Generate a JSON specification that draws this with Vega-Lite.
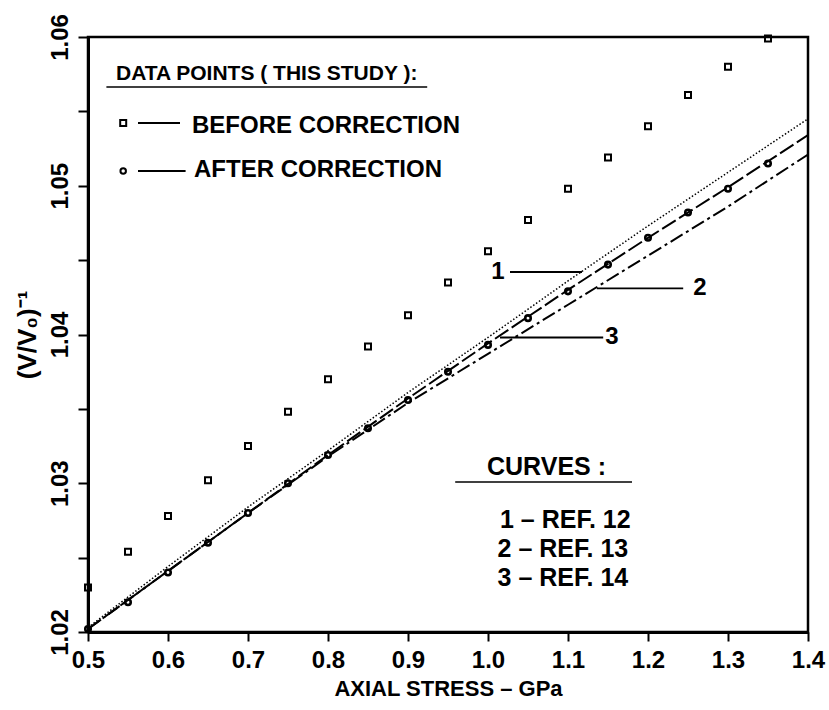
{
  "$schema": "https://vega.github.io/schema/vega-lite/v6.json",
  "width": 720,
  "height": 595,
  "autosize": {"type": "none"},
  "padding": {"left": 88, "top": 37, "right": 21, "bottom": 78},
  "background": "white",
  "config": {
    "view": {"stroke": "black", "strokeWidth": 2.5},
    "font": "Liberation Sans",
    "axis": {
      "domainColor": "black", "domainWidth": 3, "tickColor": "black", "tickWidth": 2,
      "labelColor": "black", "titleColor": "black", "grid": false,
      "labelFont": "Liberation Sans", "labelFontWeight": "bold", "labelFontSize": 24,
      "titleFont": "Liberation Sans", "titleFontWeight": "bold", "titleFontSize": 22
    }
  },
  "datasets": {
    "pts": [
      {"x": 0.5, "y": 1.0230, "series": "before"},
      {"x": 0.55, "y": 1.0254, "series": "before"},
      {"x": 0.6, "y": 1.0278, "series": "before"},
      {"x": 0.65, "y": 1.0302, "series": "before"},
      {"x": 0.7, "y": 1.0325, "series": "before"},
      {"x": 0.75, "y": 1.0348, "series": "before"},
      {"x": 0.8, "y": 1.0370, "series": "before"},
      {"x": 0.85, "y": 1.0392, "series": "before"},
      {"x": 0.9, "y": 1.0413, "series": "before"},
      {"x": 0.95, "y": 1.0435, "series": "before"},
      {"x": 1.0, "y": 1.0456, "series": "before"},
      {"x": 1.05, "y": 1.0477, "series": "before"},
      {"x": 1.1, "y": 1.0498, "series": "before"},
      {"x": 1.15, "y": 1.0519, "series": "before"},
      {"x": 1.2, "y": 1.0540, "series": "before"},
      {"x": 1.25, "y": 1.0561, "series": "before"},
      {"x": 1.3, "y": 1.0580, "series": "before"},
      {"x": 1.35, "y": 1.0599, "series": "before"},
      {"x": 0.5, "y": 1.0202, "series": "after"},
      {"x": 0.55, "y": 1.0220, "series": "after"},
      {"x": 0.6, "y": 1.0240, "series": "after"},
      {"x": 0.65, "y": 1.0260, "series": "after"},
      {"x": 0.7, "y": 1.0280, "series": "after"},
      {"x": 0.75, "y": 1.0300, "series": "after"},
      {"x": 0.8, "y": 1.0319, "series": "after"},
      {"x": 0.85, "y": 1.0337, "series": "after"},
      {"x": 0.9, "y": 1.0356, "series": "after"},
      {"x": 0.95, "y": 1.0375, "series": "after"},
      {"x": 1.0, "y": 1.0393, "series": "after"},
      {"x": 1.05, "y": 1.0411, "series": "after"},
      {"x": 1.1, "y": 1.0429, "series": "after"},
      {"x": 1.15, "y": 1.0447, "series": "after"},
      {"x": 1.2, "y": 1.0465, "series": "after"},
      {"x": 1.25, "y": 1.0482, "series": "after"},
      {"x": 1.3, "y": 1.0498, "series": "after"},
      {"x": 1.35, "y": 1.0515, "series": "after"}
    ],
    "curves": [
      {"x": 0.5, "y": 1.0203, "curve": "1"},
      {"x": 0.6, "y": 1.0244, "curve": "1"},
      {"x": 0.7, "y": 1.0284, "curve": "1"},
      {"x": 0.8, "y": 1.0322, "curve": "1"},
      {"x": 0.9, "y": 1.0361, "curve": "1"},
      {"x": 1.0, "y": 1.0398, "curve": "1"},
      {"x": 1.1, "y": 1.0436, "curve": "1"},
      {"x": 1.2, "y": 1.0473, "curve": "1"},
      {"x": 1.3, "y": 1.0509, "curve": "1"},
      {"x": 1.4, "y": 1.0545, "curve": "1"},
      {"x": 0.5, "y": 1.0202, "curve": "2"},
      {"x": 0.6, "y": 1.0241, "curve": "2"},
      {"x": 0.7, "y": 1.0280, "curve": "2"},
      {"x": 0.8, "y": 1.0318, "curve": "2"},
      {"x": 0.9, "y": 1.0354, "curve": "2"},
      {"x": 1.0, "y": 1.0387, "curve": "2"},
      {"x": 1.1, "y": 1.0420, "curve": "2"},
      {"x": 1.2, "y": 1.0453, "curve": "2"},
      {"x": 1.3, "y": 1.0486, "curve": "2"},
      {"x": 1.4, "y": 1.0521, "curve": "2"},
      {"x": 0.5, "y": 1.0202, "curve": "3"},
      {"x": 0.6, "y": 1.0241, "curve": "3"},
      {"x": 0.7, "y": 1.0280, "curve": "3"},
      {"x": 0.8, "y": 1.0319, "curve": "3"},
      {"x": 0.9, "y": 1.0357, "curve": "3"},
      {"x": 1.0, "y": 1.0394, "curve": "3"},
      {"x": 1.1, "y": 1.0430, "curve": "3"},
      {"x": 1.2, "y": 1.0465, "curve": "3"},
      {"x": 1.3, "y": 1.0499, "curve": "3"},
      {"x": 1.4, "y": 1.0534, "curve": "3"}
    ],
    "rules": [
      {"x": 0.523, "x2": 0.924, "y": 1.05664, "w": 1.6},
      {"x": 0.5625, "x2": 0.615, "y": 1.05422, "w": 2},
      {"x": 0.5625, "x2": 0.622, "y": 1.05099, "w": 2},
      {"x": 0.959, "x2": 1.18, "y": 1.03008, "w": 1.6},
      {"x": 1.0275, "x2": 1.1175, "y": 1.0442, "w": 1.8},
      {"x": 1.136, "x2": 1.244, "y": 1.0431, "w": 1.8},
      {"x": 1.015, "x2": 1.144, "y": 1.0398, "w": 1.8}
    ],
    "legendsquare": [{"x": 0.544, "y": 1.05422}],
    "legendcircle": [{"x": 0.544, "y": 1.05099}],
    "textsA": [
      {"x": 0.535, "y": 1.05711, "text": "DATA POINTS ( THIS STUDY ):", "size": 21},
      {"x": 0.63, "y": 1.05355, "text": "BEFORE CORRECTION", "size": 24},
      {"x": 0.6325, "y": 1.05059, "text": "AFTER CORRECTION", "size": 24}
    ],
    "textsB": [
      {"x": 0.99875, "y": 1.03056, "text": "CURVES :"},
      {"x": 1.015, "y": 1.02699, "text": "1 – REF. 12"},
      {"x": 1.012, "y": 1.02504, "text": "2 – REF. 13"},
      {"x": 1.012, "y": 1.02309, "text": "3 – REF. 14"}
    ],
    "textsC": [
      {"x": 1.0125, "y": 1.0442, "text": "1"},
      {"x": 1.265, "y": 1.0431, "text": "2"},
      {"x": 1.155, "y": 1.0398, "text": "3"}
    ]
  },
  "encoding": {
    "x": {
      "field": "x", "type": "quantitative",
      "scale": {"domain": [0.5, 1.4], "nice": false, "zero": false},
      "axis": {
        "values": [0.5, 0.6, 0.7, 0.8, 0.9, 1.0, 1.1, 1.2, 1.3, 1.4],
        "format": ".1f", "tickSize": 9, "labelPadding": 7,
        "title": "AXIAL STRESS – GPa", "titlePadding": 6, "labelFlush": false
      }
    },
    "y": {
      "field": "y", "type": "quantitative",
      "scale": {"domain": [1.02, 1.06], "nice": false, "zero": false},
      "axis": {
        "values": [1.02, 1.025, 1.03, 1.035, 1.04, 1.045, 1.05, 1.055, 1.06],
        "labelExpr": "round(datum.value*1000) % 10 === 0 ? format(datum.value, '.2f') : ''",
        "labelAngle": 270, "tickSize": 10, "labelPadding": 6, "labelFlush": false,
        "title": "(V/V₀)⁻¹", "titleFontSize": 26, "titlePadding": 8
      }
    }
  },
  "layer": [
    {
      "data": {"name": "curves"},
      "transform": [{"filter": "datum.curve === '1'"}],
      "mark": {"type": "line", "color": "black", "strokeWidth": 1.5, "strokeDash": [1.5, 2], "clip": true}
    },
    {
      "data": {"name": "curves"},
      "transform": [{"filter": "datum.curve === '2'"}],
      "mark": {"type": "line", "color": "black", "strokeWidth": 2, "strokeDash": [14, 4, 3, 4], "clip": true}
    },
    {
      "data": {"name": "curves"},
      "transform": [{"filter": "datum.curve === '3'"}],
      "mark": {"type": "line", "color": "black", "strokeWidth": 2, "strokeDash": [16, 4], "clip": true}
    },
    {
      "data": {"name": "pts"},
      "transform": [{"filter": "datum.series === 'before'"}],
      "mark": {"type": "point", "shape": "square", "filled": false, "color": "black", "size": 36, "strokeWidth": 2, "opacity": 1}
    },
    {
      "data": {"name": "pts"},
      "transform": [{"filter": "datum.series === 'after'"}],
      "mark": {"type": "point", "shape": "circle", "filled": false, "color": "black", "size": 30, "strokeWidth": 2.6, "opacity": 1}
    },
    {
      "data": {"name": "rules"},
      "mark": {"type": "rule", "color": "black"},
      "encoding": {
        "x2": {"field": "x2"},
        "strokeWidth": {"field": "w", "type": "quantitative", "scale": null}
      }
    },
    {
      "data": {"name": "legendsquare"},
      "mark": {"type": "point", "shape": "square", "filled": false, "color": "black", "size": 36, "strokeWidth": 2, "opacity": 1}
    },
    {
      "data": {"name": "legendcircle"},
      "mark": {"type": "point", "shape": "circle", "filled": false, "color": "black", "size": 30, "strokeWidth": 2, "opacity": 1}
    },
    {
      "data": {"name": "textsA"},
      "mark": {"type": "text", "font": "Liberation Sans", "fontWeight": "bold", "color": "black", "align": "left", "baseline": "alphabetic"},
      "encoding": {
        "text": {"field": "text"},
        "size": {"field": "size", "type": "quantitative", "scale": null}
      }
    },
    {
      "data": {"name": "textsB"},
      "mark": {"type": "text", "font": "Liberation Sans", "fontWeight": "bold", "fontSize": 25, "color": "black", "align": "left", "baseline": "alphabetic"},
      "encoding": {"text": {"field": "text"}}
    },
    {
      "data": {"name": "textsC"},
      "mark": {"type": "text", "font": "Liberation Sans", "fontWeight": "bold", "fontSize": 24, "color": "black", "align": "center", "baseline": "middle"},
      "encoding": {"text": {"field": "text"}}
    }
  ]
}
